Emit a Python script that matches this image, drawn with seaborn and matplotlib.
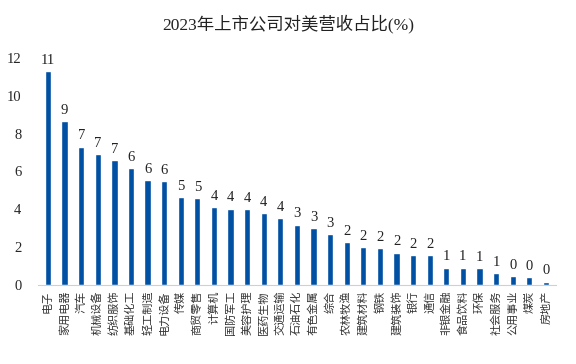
import pandas as pd
import numpy as np
import matplotlib
matplotlib.use("Agg")
import matplotlib.pyplot as plt
import seaborn as sns

#%% Data
industries = ["电子", "家用电器", "汽车", "机械设备", "纺织服饰", "基础化工", "轻工制造",
              "电力设备", "传媒", "商贸零售", "计算机", "国防军工", "美容护理", "医药生物",
              "交通运输", "石油石化", "有色金属", "综合", "农林牧渔", "建筑材料", "钢铁",
              "建筑装饰", "银行", "通信", "非银金融", "食品饮料", "环保", "社会服务",
              "公用事业", "煤炭", "房地产"]
share_us = [11.29, 8.67, 7.31, 6.92, 6.60, 6.16, 5.54,
            5.51, 4.63, 4.60, 4.10, 4.04, 4.02, 3.79,
            3.52, 3.19, 3.02, 2.67, 2.27, 2.00, 1.93,
            1.71, 1.56, 1.56, 0.92, 0.92, 0.88, 0.65,
            0.48, 0.41, 0.18]
yticks = [0, 2, 4, 6, 8, 10, 12]

df = pd.DataFrame({"industry": industries, "share": share_us})

#%% Plot
sns.set_style("white")
plt.rcParams['font.family'] = ['Liberation Serif', 'Noto Sans CJK SC']

fig = plt.figure(figsize=(5.76, 3.64), dpi=100)
ax = fig.add_axes([0.066, 0.217, 0.899, 0.624])
sns.barplot(data=df, x="industry", y="share", color="#0050a4", width=0.38,
            saturation=1, ax=ax)
ax.bar_label(ax.containers[0], fmt="%.0f", padding=3, fontsize=10.5, color="#222222")

ax.set_ylim(0, 12)
ax.set_yticks(yticks)
ax.set_xlim(-0.6, len(industries) - 0.4)
ax.tick_params(axis="y", length=0, labelsize=10.5, pad=12)
ax.tick_params(axis="x", length=0, labelsize=8, pad=4)
plt.setp(ax.get_xticklabels(), rotation=90, family=['Noto Sans CJK SC'], color="#333333")
ax.set_xlabel("")
ax.set_ylabel("")
sns.despine(ax=ax, left=True)
ax.spines["bottom"].set_color("#d0d0d0")
fig.suptitle("2023年上市公司对美营收占比(%)", y=0.96, fontsize=12.5, color="#222222")

fig.savefig("out.png", dpi=100)
